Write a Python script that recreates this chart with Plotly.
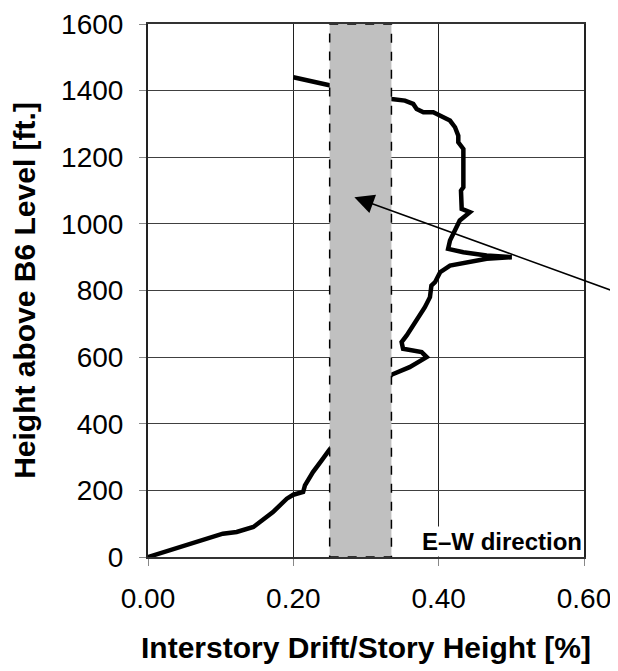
import plotly.graph_objects as go

# Interstory drift profile (E-W direction)
drift = [0, 0.053, 0.103, 0.122, 0.145, 0.172, 0.191, 0.200, 0.2135, 0.216, 0.227, 0.239, 0.249,
         0.335, 0.360, 0.3835, 0.3766, 0.351, 0.349, 0.356, 0.365, 0.374, 0.381, 0.388, 0.390,
         0.395, 0.402, 0.4156, 0.443, 0.466, 0.5006, 0.466, 0.434, 0.413, 0.4156, 0.4225, 0.429,
         0.443, 0.4317, 0.4307, 0.434, 0.434, 0.427, 0.427, 0.4225, 0.4156, 0.4018, 0.3926,
         0.379, 0.3697, 0.365, 0.3536, 0.335, 0.25, 0.2]
height = [0, 35, 70, 75, 90, 135, 175, 187, 195, 215, 255, 290, 320,
          547, 570, 600, 615, 625, 645, 665, 695, 730, 750, 780, 815,
          825, 855, 875, 885, 895, 900, 905, 915, 925, 950, 980, 1010,
          1035, 1045, 1100, 1110, 1225, 1245, 1265, 1290, 1310, 1325, 1335,
          1335, 1345, 1360, 1370, 1375, 1415, 1440]

band_x = [0.25, 0.335]          # shaded drift band
arrow_tip = [0.284, 1080]       # arrow pointing into band

x_ticks = [0.0, 0.2, 0.4, 0.6]
x_ticklabels = ["0.00", "0.20", "0.40", "0.60"]
y_ticks = [0, 200, 400, 600, 800, 1000, 1200, 1400, 1600]

FONT = "Liberation Sans, Arial, sans-serif"

fig = go.Figure()
fig.add_trace(go.Scatter(x=drift, y=height, mode="lines",
                         line=dict(color="black", width=4.5), showlegend=False,
                         hoverinfo="skip"))

fig.add_shape(type="rect", x0=band_x[0], x1=band_x[1], y0=0, y1=1600,
              fillcolor="#c0c0c0", line=dict(color="black", width=1.5, dash="dash"),
              layer="above")

fig.add_annotation(x=arrow_tip[0], y=arrow_tip[1], ax=270, ay=95.5, axref="pixel", ayref="pixel",
                   text="", showarrow=True, arrowhead=2, arrowsize=2.6, arrowwidth=1.5,
                   arrowcolor="black")

fig.add_annotation(xref="x domain", yref="y domain", x=1, y=0, xanchor="right", yanchor="bottom",
                   text="<b>E\u2013W direction</b>", showarrow=False, bgcolor="white",
                   font=dict(family=FONT, size=24, color="black"), borderpad=1)

fig.update_layout(
    width=610, height=663,
    margin=dict(l=140, r=34, t=16, b=114),
    paper_bgcolor="white", plot_bgcolor="white",
    font=dict(family=FONT, color="black"),
    xaxis=dict(range=[0, 0.6], tickvals=x_ticks, ticktext=x_ticklabels,
               showgrid=True, gridcolor="#202020", gridwidth=1,
               showline=True, linecolor="#333333", linewidth=2, mirror=True,
               ticks="outside", ticklen=7, tickcolor="#888888",
               tickfont=dict(size=28), ticklabelstandoff=8, zeroline=False,
               title=dict(text="<b>Interstory Drift/Story Height [%]</b>",
                          font=dict(size=30), standoff=24),
               automargin=False),
    yaxis=dict(range=[0, 1600], tickvals=y_ticks,
               showgrid=True, gridcolor="#404040", gridwidth=1,
               showline=True, linecolor="#222222", linewidth=2, mirror=True,
               ticks="outside", ticklen=7, tickcolor="#888888",
               tickfont=dict(size=28), ticklabelstandoff=10, zeroline=False,
               title=dict(text="<b>Height above B6 Level [ft.]</b>",
                          font=dict(size=30), standoff=27),
               automargin=False),
)

fig.write_html("out.html")
